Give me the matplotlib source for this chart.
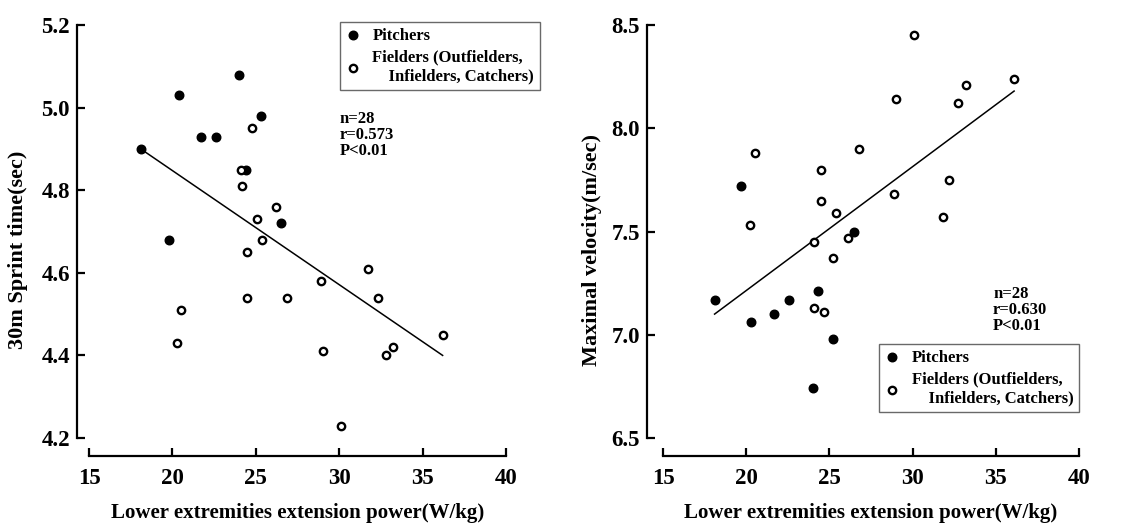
import matplotlib.pyplot as plt
import numpy as np

# power (W/kg) of each player
pitch_power = [18.1, 20.4, 21.7, 22.6, 24.0, 25.3, 24.4, 26.5, 19.8]
pitch_sprint = [4.90, 5.03, 4.93, 4.93, 5.08, 4.98, 4.85, 4.72, 4.68]

field_power = [24.8, 24.1, 24.2, 26.2, 25.1, 25.4, 24.5, 31.7, 28.9, 24.5,
               26.9, 32.3, 20.5, 20.3, 36.2, 29.0, 32.8, 33.2, 30.1]
field_sprint = [4.95, 4.85, 4.81, 4.76, 4.73, 4.68, 4.65, 4.61, 4.58, 4.54,
                4.54, 4.54, 4.51, 4.43, 4.45, 4.41, 4.40, 4.42, 4.23]

# right panel
pitch_power2 = [19.7, 26.5, 18.1, 20.3, 21.7, 22.6, 24.3, 25.2, 24.0]
pitch_vel = [7.72, 7.50, 7.17, 7.06, 7.10, 7.17, 7.21, 6.98, 6.74]

field_power2 = [30.1, 36.1, 33.2, 32.7, 29.0, 20.5, 26.8, 24.5, 32.2, 28.9,
                24.5, 25.4, 31.8, 20.2, 26.1, 24.1, 25.2, 24.1, 24.7]
field_vel = [8.45, 8.24, 8.21, 8.12, 8.14, 7.88, 7.90, 7.80, 7.75, 7.68,
             7.65, 7.59, 7.57, 7.53, 7.47, 7.45, 7.37, 7.13, 7.11]

# regression line ends as drawn
fit1_x = [18.1, 36.2]
fit1_y = [4.90, 4.40]
fit2_x = [18.1, 36.1]
fit2_y = [7.10, 8.18]

x_ticks = [15, 20, 25, 30, 35, 40]
y1_ticks = [4.2, 4.4, 4.6, 4.8, 5.0, 5.2]
y2_ticks = [6.5, 7.0, 7.5, 8.0, 8.5]

stats1 = "n=28\nr=0.573\nP<0.01"
stats2 = "n=28\nr=0.630\nP<0.01"

plt.rcParams['font.family'] = ['Liberation Serif', 'Noto Sans CJK SC']
plt.rcParams['font.weight'] = 'bold'

W, H = 1131, 525
fig = plt.figure(figsize=(W / 100, H / 100), dpi=100)

ax1 = fig.add_axes([89 / W, 87 / H, 417 / W, 413 / H])
ax2 = fig.add_axes([663 / W, 87 / H, 416 / W, 413 / H])


def style(ax, yt, left_off, ylab):
    ax.set_xlim(15, 40)
    ax.set_ylim(yt[0], yt[-1])
    ax.set_xticks(x_ticks)
    ax.set_yticks(yt)
    ax.set_yticklabels(["%.1f" % v for v in yt])
    for s in ['top', 'right']:
        ax.spines[s].set_visible(False)
    ax.spines['left'].set_position(('outward', left_off * 0.72))
    ax.spines['bottom'].set_position(('outward', 18 * 0.72))
    ax.spines['left'].set_linewidth(1.6)
    ax.spines['bottom'].set_linewidth(1.6)
    ax.tick_params(axis='both', direction='in', length=6, width=1.6,
                   labelsize=16.5)
    ax.tick_params(axis='x', pad=9)
    ax.tick_params(axis='y', pad=5)
    ax.set_xlabel("Lower extremities extension power(W/kg)", fontsize=15,
                  fontweight='bold')
    ax.xaxis.set_label_coords(0.5, -0.158)
    ax.set_ylabel(ylab, fontsize=16, fontweight='bold')
    ax.yaxis.set_label_coords(-0.146, 0.455)


style(ax1, y1_ticks, 12, "30m Sprint time(sec)")
style(ax2, y2_ticks, 16, "Maximal velocity(m/sec)")

for ax, px, py, fx, fy, lx, ly in [
        (ax1, pitch_power, pitch_sprint, field_power, field_sprint, fit1_x, fit1_y),
        (ax2, pitch_power2, pitch_vel, field_power2, field_vel, fit2_x, fit2_y)]:
    ax.plot(lx, ly, color='black', lw=1.1)
    ax.scatter(px, py, s=38, color='black', zorder=3, clip_on=False,
               label='Pitchers')
    ax.scatter(fx, fy, s=28, facecolor='white', edgecolor='black',
               linewidth=1.7, zorder=3, clip_on=False,
               label='Fielders (Outfielders,\n    Infielders, Catchers)')

ax1.text(340 / W, 1 - 111 / H, stats1, transform=fig.transFigure,
         fontsize=12, fontweight='bold', va='top', linespacing=1.0)
ax2.text(993 / W, 1 - 286 / H, stats2, transform=fig.transFigure,
         fontsize=12, fontweight='bold', va='top', linespacing=1.0)

for ax, anchor in [(ax1, (340 / W, 1 - 22 / H)), (ax2, (879 / W, 1 - 344 / H))]:
    leg = ax.legend(loc='upper left', bbox_to_anchor=anchor,
                    bbox_transform=fig.transFigure, borderaxespad=0,
                    fancybox=False, frameon=True,
                    handletextpad=0.7, labelspacing=0.35, borderpad=0.35,
                    handlelength=0.9, prop={'weight': 'bold', 'size': 12})
    leg.get_frame().set_edgecolor('#444444')
    leg.get_frame().set_linewidth(1.0)

fig.savefig('out.png', dpi=100)
